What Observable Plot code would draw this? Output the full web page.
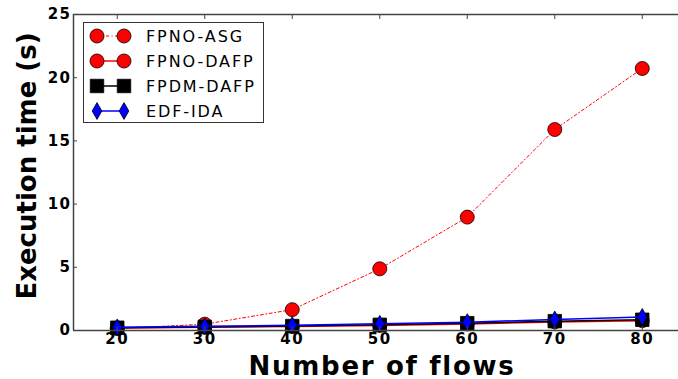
<!DOCTYPE html>
<html>
<head>
<meta charset="utf-8">
<script src="https://cdn.jsdelivr.net/npm/d3@7"></script>
<script src="https://cdn.jsdelivr.net/npm/@observablehq/plot@0.6"></script>
<style>
  html, body { margin: 0; padding: 0; background: white; }
  #chart { width: 678px; height: 379px; }
</style>
</head>
<body>
<div id="chart"></div>
<script>
// ---- data ----
const flows = [20, 30, 40, 50, 60, 70, 80];
const fpnoAsg  = [0.15, 0.5, 1.65, 4.88, 8.97, 15.9, 20.73];
const fpnoDafp = [0.2, 0.26, 0.32, 0.4, 0.52, 0.68, 0.78];
const fpdmDafp = [0.22, 0.28, 0.35, 0.45, 0.58, 0.74, 0.85];
const edfIda   = [0.25, 0.33, 0.42, 0.53, 0.66, 0.87, 1.07];
const seriesNames = ["FPNO-ASG", "FPNO-DAFP", "FPDM-DAFP", "EDF-IDA"];
const xTicks = [20, 30, 40, 50, 60, 70, 80];
const yTicks = [0, 5, 10, 15, 20, 25];
const xDomain = [15, 84.14];
const yDomain = [0, 25];
const xLabel = "Number of flows";
const yLabel = "Execution time (s)";

const rows = (vals) => flows.map((f, i) => ({x: f, y: vals[i]}));
const dAsg = rows(fpnoAsg), dDafp = rows(fpnoDafp), dFpdm = rows(fpdmDafp), dEdf = rows(edfIda);

const RED = "#ff0000", BLUE = "#0000ff", AX = "#444";
const FONT = "'DejaVu Sans', sans-serif";

const plot = Plot.plot({
  width: 678, height: 379,
  marginLeft: 73, marginRight: 0, marginTop: 14, marginBottom: 49,
  x: {domain: xDomain},
  y: {domain: yDomain},
  style: {fontFamily: FONT, fontSize: "15px", fontWeight: "bold", color: "black", background: "white", overflow: "visible"},
  marks: [
    // series (drawn in original order)
    Plot.line(dAsg, {x: "x", y: "y", stroke: RED, strokeWidth: 1, strokeDasharray: "3,2.5,1,2.5"}),
    Plot.dot(dAsg, {x: "x", y: "y", r: 7, fill: RED, stroke: "black", strokeWidth: 0.8}),
    Plot.line(dDafp, {x: "x", y: "y", stroke: RED, strokeWidth: 1.5}),
    Plot.dot(dDafp, {x: "x", y: "y", r: 7, fill: RED, stroke: "black", strokeWidth: 0.8}),
    Plot.line(dFpdm, {x: "x", y: "y", stroke: "black", strokeWidth: 1.5}),
    Plot.dot(dFpdm, {x: "x", y: "y", r: 7.6, symbol: "square", fill: "black", stroke: "black", strokeWidth: 0.8}),
    Plot.line(dEdf, {x: "x", y: "y", stroke: BLUE, strokeWidth: 1.5}),
    Plot.dot(dEdf, {x: "x", y: "y", r: 5.1, symbol: "diamond", fill: BLUE, stroke: "black", strokeWidth: 0.8}),
    // frame (left, bottom, top)
    Plot.ruleY([yDomain[0], yDomain[1]], {stroke: AX, strokeWidth: 1.5}),
    Plot.ruleX([xDomain[0]], {stroke: AX, strokeWidth: 1.5}),
    // inward ticks
    Plot.axisX(xTicks, {anchor: "bottom", tickSize: -4, text: null, label: null, stroke: AX}),
    Plot.axisX(xTicks, {anchor: "top", tickSize: -4, text: null, label: null, stroke: AX}),
    Plot.axisY(yTicks, {anchor: "left", tickSize: -4, text: null, label: null, stroke: AX}),
    // tick labels
    Plot.axisX(xTicks, {anchor: "bottom", tickSize: 0, tickPadding: 3, label: null, fontSize: 15, fontWeight: "bold", fill: "black"}),
    Plot.axisY(yTicks, {anchor: "left", tickSize: 0, tickPadding: 2, label: null, fontSize: 15, fontWeight: "bold", fill: "black"}),
    // x axis title
    Plot.text([xLabel], {frameAnchor: "bottom", lineAnchor: "bottom", dy: 44, dx: 6, fontSize: 26, fontWeight: "bold", fill: "black"})
  ]
});

const svg = d3.select(plot);
// slight horizontal widening of horizontal texts (the reference is stretched horizontally)
svg.selectAll("text").filter(function() { return this.textContent === xLabel; }).style("letter-spacing", "1.7px");
svg.selectAll("[aria-label='x-axis tick label'] text").style("letter-spacing", "1.5px");
svg.selectAll("[aria-label='y-axis tick label'] text").style("letter-spacing", "1.5px");

// y axis title (rotated)
svg.append("text")
  .attr("transform", "translate(27,166) rotate(-90)")
  .attr("text-anchor", "middle").attr("dy", "0.36em")
  .attr("font-family", FONT).attr("font-size", 26).attr("font-weight", "bold").attr("fill", "black")
  .text(yLabel);

// ---- legend (inside the plot, upper left) ----
const lg = svg.append("g").attr("font-family", FONT).attr("text-anchor", "start");
lg.append("rect").attr("x", 83.5).attr("y", 22.5).attr("width", 180).attr("height", 100)
  .attr("fill", "white").attr("stroke", "#333").attr("stroke-width", 1);
const legendStyles = [
  {stroke: RED, dash: "3,2.5,1,2.5", sw: 1, sym: d3.symbolCircle, r: 7, fill: RED},
  {stroke: RED, dash: null, sw: 1.5, sym: d3.symbolCircle, r: 7, fill: RED},
  {stroke: "black", dash: null, sw: 1.5, sym: d3.symbolSquare, r: 7.6, fill: "black"},
  {stroke: BLUE, dash: null, sw: 1.5, sym: d3.symbolDiamond, r: 5.1, fill: BLUE}
];
seriesNames.forEach((name, i) => {
  const s = legendStyles[i];
  const cy = 36 + i * 25;
  const x1 = 97, x2 = 124;
  lg.append("line").attr("x1", x1).attr("x2", x2).attr("y1", cy).attr("y2", cy)
    .attr("stroke", s.stroke).attr("stroke-width", s.sw).attr("stroke-dasharray", s.dash);
  const path = d3.symbol(s.sym, Math.PI * s.r * s.r)();
  [x1, x2].forEach(x => {
    lg.append("path").attr("d", path).attr("transform", `translate(${x},${cy})`)
      .attr("fill", s.fill).attr("stroke", "black").attr("stroke-width", 0.8);
  });
  lg.append("text").attr("x", 146).attr("y", cy).attr("dy", "0.36em")
    .attr("text-anchor", "start")
    .attr("font-size", 16).attr("font-weight", "normal").attr("fill", "black")
    .style("letter-spacing", "1.9px").text(name);
});

document.getElementById("chart").appendChild(plot);
</script>
</body>
</html>
